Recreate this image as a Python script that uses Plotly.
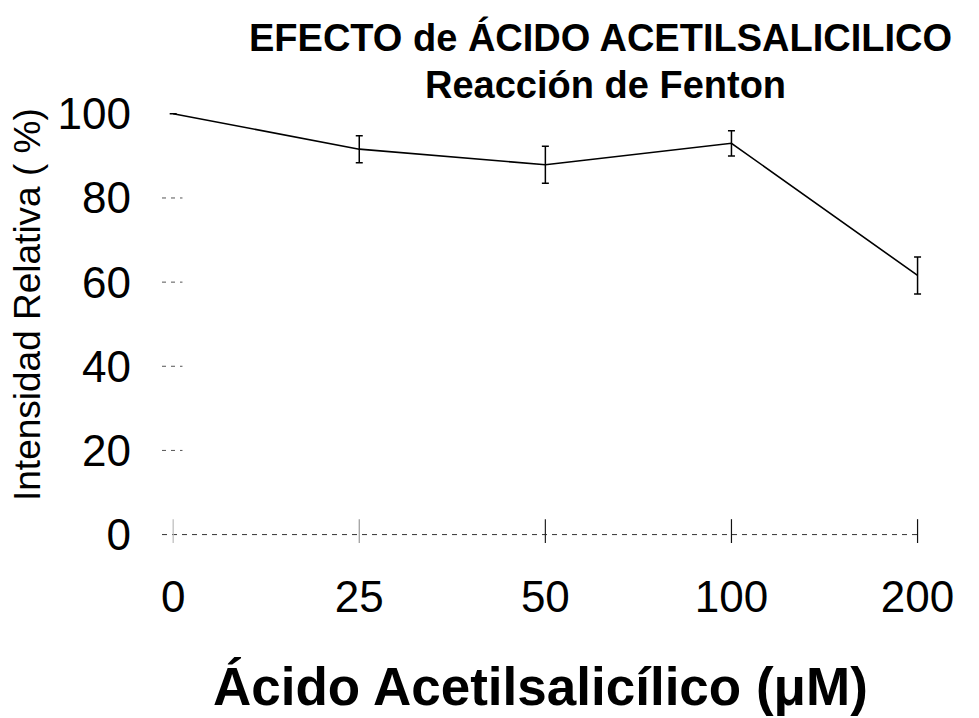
import plotly.graph_objects as go

# ---- data ----
concentrations = ["0", "25", "50", "100", "200"]
intensity = [100.0, 91.6, 87.9, 93.0, 61.6]
intensity_err = [0.0, 3.2, 4.4, 3.0, 4.4]
y_ticks = [0, 20, 40, 60, 80, 100]

title_line1 = "EFECTO de ÁCIDO ACETILSALICILICO"
title_line2 = "Reacción de Fenton"
x_title = "Ácido Acetilsalicílico (μM)"
y_title = "Intensidad Relativa ( %)"

xpos = list(range(len(concentrations)))

PLOT_W = 763.0
PLOT_H = 446.0
FONT = "Liberation Sans, Arial, sans-serif"

fig = go.Figure()

# short dashed tick stubs on the y axis
for yv in y_ticks[1:-1]:
    fig.add_trace(go.Scatter(
        x=[-0.06, 0.05], y=[yv, yv], mode="lines",
        line=dict(color="#555555", width=1, dash="4px,5px"),
        hoverinfo="skip", showlegend=False))

# dashed x axis line at y=0
fig.add_trace(go.Scatter(
    x=[-0.06, xpos[-1]], y=[0, 0], mode="lines",
    line=dict(color="#333333", width=1, dash="5px,5px"),
    hoverinfo="skip", showlegend=False))

# vertical category tick marks crossing the axis line
fig.add_trace(go.Scatter(
    x=xpos, y=[0] * len(xpos), mode="markers",
    marker=dict(symbol="line-ns-open", size=22,
                color=["#bbbbbb", "#999999", "#222222", "#111111", "#111111"],
                line=dict(width=1.2)),
    hoverinfo="skip", showlegend=False))

# main series
fig.add_trace(go.Scatter(
    x=xpos, y=intensity, mode="lines",
    line=dict(color="black", width=1.6),
    error_y=dict(type="data", array=intensity_err, visible=True,
                 color="black", thickness=1.5, width=3.5),
    showlegend=False))

fig.update_layout(
    width=979, height=718,
    margin=dict(l=162, r=54, t=97, b=175),
    paper_bgcolor="white", plot_bgcolor="white",
    showlegend=False,
    xaxis=dict(range=[-0.06, 4.04], tickmode="array", tickvals=xpos, ticktext=concentrations,
               showgrid=False, zeroline=False, showline=False, ticks="",
               ticklabelstandoff=24,
               tickfont=dict(family=FONT, size=44, color="black")),
    yaxis=dict(range=[-2, 104], tickmode="array", tickvals=y_ticks,
               showgrid=False, zeroline=False, showline=False, ticks="",
               ticklabelstandoff=30,
               tickfont=dict(family=FONT, size=44, color="black")),
    annotations=[
        dict(text=title_line1, xref="paper", yref="paper",
             x=(600 - 162) / PLOT_W, y=1 + (97 - 38) / PLOT_H,
             xanchor="center", yanchor="middle", showarrow=False,
             font=dict(family=FONT, size=38, color="black", weight="bold")),
        dict(text=title_line2, xref="paper", yref="paper",
             x=(605 - 162) / PLOT_W, y=1 + (97 - 85) / PLOT_H,
             xanchor="center", yanchor="middle", showarrow=False,
             font=dict(family=FONT, size=38, color="black", weight="bold")),
        dict(text=x_title, xref="paper", yref="paper",
             x=(540 - 162) / PLOT_W, y=-(686 - 543) / PLOT_H,
             xanchor="center", yanchor="middle", showarrow=False,
             font=dict(family=FONT, size=53, color="black", weight="bold")),
        dict(text=y_title, xref="paper", yref="paper",
             x=(27 - 162) / PLOT_W, y=(543 - 305) / PLOT_H,
             xanchor="center", yanchor="middle", showarrow=False, textangle=-90,
             font=dict(family=FONT, size=37, color="black")),
    ],
)

fig.write_html("out.html")
